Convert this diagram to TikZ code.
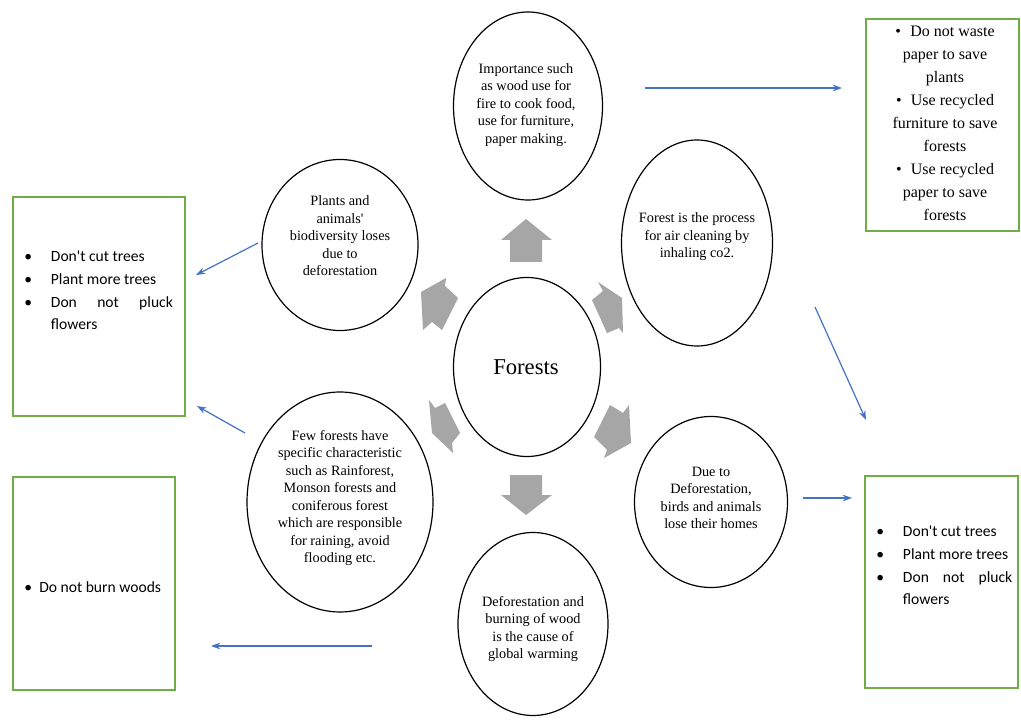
\documentclass[tikz,border=0pt]{standalone}
\usepackage{fontspec}
\setmainfont{Liberation Serif}
\newfontfamily\calibri{Carlito}
\usetikzlibrary{shapes.geometric,arrows.meta}
\definecolor{linkblue}{HTML}{4472C4}
\definecolor{boxgreen}{HTML}{70AD47}
\definecolor{arrowgray}{HTML}{A6A6A6}
\newcommand{\blt}[1]{\makebox[#1][l]{\textbullet}}

\begin{document}
\begin{tikzpicture}[x=0.75pt,y=-0.75pt,
  bubble/.style={draw=black, line width=0.9pt, ellipse, inner sep=0pt},
  bubbletext/.style={align=center, inner sep=0pt, font=\rmfamily\fontsize{10.7}{13.1}\selectfont},
  blockarrow/.style={fill=arrowgray, draw=none},
  link/.style={draw=linkblue, line width=0.9pt, -{Stealth[length=7pt,width=5pt]}},
  notebox/.style={draw=boxgreen, line width=1.1pt, inner sep=0pt},
  serifnote/.style={align=center, inner sep=0pt, font=\rmfamily\fontsize{12}{17.25}\selectfont},
  sansnote/.style={align=left, inner sep=0pt, anchor=north west, font=\calibri\fontsize{11.7}{17}\selectfont}
]
\useasboundingbox (0,0) rectangle (1021,720);
\fill[white] (0,0) rectangle (1021,720);

% ---- ellipses ----
\node[bubble, minimum width=111.75pt, minimum height=141pt]   (imp)     at (528,106) {};
\node[bubble, minimum width=113.25pt, minimum height=154.5pt] (air)     at (697,243) {};
\node[bubble, minimum width=117pt,    minimum height=128.25pt](bio)     at (340,245) {};
\node[bubble, minimum width=110.25pt, minimum height=134.25pt](forests) at (527,367) {};
\node[bubble, minimum width=114.75pt, minimum height=128.25pt](homes)   at (711,502) {};
\node[bubble, minimum width=112.5pt,  minimum height=137.25pt](warm)    at (533,624) {};
\node[bubble, minimum width=139.5pt,  minimum height=165pt]   (rain)    at (340,502) {};

% ---- ellipse texts ----
\node[bubbletext] (imp-t) at (526,105)
  {Importance such\\as wood use for\\fire to cook food,\\use for furniture,\\paper making.};
\node[bubbletext] (air-t) at (697,237)
  {Forest is the process\\for air cleaning by\\inhaling co2.};
\node[bubbletext] (bio-t) at (340,236)
  {Plants and\\animals\textquotesingle\\biodiversity loses\\due to\\deforestation};
\node[inner sep=0pt, font=\rmfamily\fontsize{17}{20}\selectfont] (forests-t) at (526,367) {Forests};
\node[bubbletext] (homes-t) at (711,498)
  {Due to\\Deforestation,\\birds and animals\\lose their homes};
\node[bubbletext] (warm-t) at (533,629)
  {Deforestation and\\burning of wood\\is the cause of\\global warming};
\node[bubbletext] (rain-t) at (340,498)
  {Few forests have\\specific characteristic\\such as Rainforest,\\Monson forests and\\coniferous forest\\which are responsible\\for raining, avoid\\flooding etc.};

% ---- grey block arrows around the centre ----
\fill[blockarrow] (526,219) -- (552,240) -- (542,240) -- (542,262) -- (510,262) -- (510,240) -- (501,240) -- cycle;
\fill[blockarrow] (510,475) -- (542,475) -- (542,495) -- (552,495) -- (526,515) -- (501,495) -- (510,495) -- cycle;
\fill[blockarrow] (421,292) -- (446,278) -- (445,286) -- (458,298) -- (442,330) -- (432,322) -- (423,330) -- cycle;
\fill[blockarrow] (598,282) -- (622,298) -- (623,333) -- (619,328) -- (607,333) -- (592,300) -- (603,291) -- cycle;
\fill[blockarrow] (429,400) -- (435,408) -- (445,403) -- (460,433) -- (452,443) -- (453,453) -- (432,433) -- cycle;
\fill[blockarrow] (610,405) -- (623,413) -- (629,405) -- (631,443) -- (604,458) -- (607,450) -- (594,437) -- cycle;

% ---- green note boxes ----
\node[notebox, minimum width=114.75pt, minimum height=159pt]    (save)   at (942.5,125) {};
\node[notebox, minimum width=129pt,    minimum height=164.25pt] (trees1) at (99,306.5) {};
\node[notebox, minimum width=121.5pt,  minimum height=159.75pt] (burn)   at (94,583.5) {};
\node[notebox, minimum width=114.75pt, minimum height=159pt]    (trees2) at (941.5,582) {};

\node[serifnote] (save-t) at (945,123)
  {\textbullet\hspace{7pt}Do not waste\\paper to save\\plants\\
   \textbullet\hspace{7pt}Use recycled\\furniture to save\\forests\\
   \textbullet\hspace{7pt}Use recycled\\paper to save\\forests};

\node[sansnote] (trees1-t) at (24,251)
  {\blt{20pt}Don't cut trees\\
   \blt{20pt}Plant more trees\\
   \blt{20pt}\makebox[91.5pt][l]{Don\hfill not\hfill pluck}\\
   \hspace*{20pt}flowers};
\node[sansnote] (burn-t) at (24,581)
  {\blt{11.25pt}Do not burn woods};
\node[sansnote] (trees2-t) at (876,526)
  {\blt{20pt}Don't cut trees\\
   \blt{20pt}Plant more trees\\
   \blt{20pt}\makebox[82pt][l]{Don\hfill not\hfill pluck}\\
   \hspace*{20pt}flowers};

% ---- blue connectors ----
\coordinate (l1a) at (645,88);   \coordinate (l1b) at (842,88);
\coordinate (l2a) at (258,243);  \coordinate (l2b) at (196,275);
\coordinate (l3a) at (245,433);  \coordinate (l3b) at (197,406);
\coordinate (l4a) at (815,307);  \coordinate (l4b) at (866,420);
\coordinate (l5a) at (803,498);  \coordinate (l5b) at (852,498);
\coordinate (l6a) at (372,646);  \coordinate (l6b) at (211,646);
\draw[link] (l1a) -- (l1b);
\draw[link] (l2a) -- (l2b);
\draw[link] (l3a) -- (l3b);
\draw[link] (l4a) -- (l4b);
\draw[link] (l5a) -- (l5b);
\draw[link] (l6a) -- (l6b);
\end{tikzpicture}
\end{document}
